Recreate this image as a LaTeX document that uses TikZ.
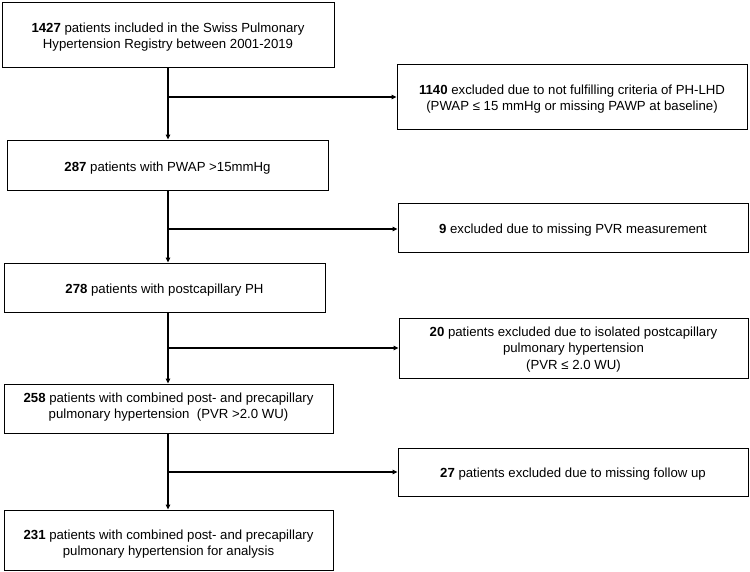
\documentclass[tikz,border=0pt]{standalone}
\usepackage{fontspec}
\setmainfont{Liberation Sans}
\usetikzlibrary{arrows.meta}
\newcommand\bxt[2]{\raisebox{#1}[\height][\depth]{\begin{tabular}{@{}c@{}}#2\end{tabular}}}
\begin{document}
\begin{tikzpicture}[x=1pt,y=-1pt,
  box/.style={draw=black,line width=0.9pt,fill=white,inner sep=0pt,font=\fontsize{13.2}{16.3}\selectfont},
  conn/.style={line width=1.3pt,draw=black},
  arr/.style={conn,-{Triangle[length=5pt,width=4.5pt]}}]
\useasboundingbox (0,0) rectangle (750,571);
\node[box,minimum width=332pt,minimum height=65pt] (b1) at (168,34.5)
  {\bxt{-3pt}{\textbf{1427} patients included in the Swiss Pulmonary\\Hypertension Registry between 2001-2019}};
\node[box,minimum width=321pt,minimum height=50pt] (b2) at (167.5,165)
  {\bxt{-3pt}{\textbf{287} patients with PWAP >15mmHg}};
\node[box,minimum width=321pt,minimum height=49pt] (b3) at (164.5,287.5)
  {\bxt{-3pt}{\textbf{278} patients with postcapillary PH}};
\node[box,minimum width=329pt,minimum height=49pt] (b4) at (168.5,408.5)
  {\bxt{1.5pt}{\textbf{258} patients with combined post- and precapillary\\pulmonary hypertension\ \ (PVR >2.0 WU)}};
\node[box,minimum width=329pt,minimum height=60pt] (b5) at (168.5,540)
  {\bxt{-4.5pt}{\textbf{231} patients with combined post- and precapillary\\pulmonary hypertension for analysis}};
\node[box,minimum width=350pt,minimum height=65pt] (r1) at (572,96.5)
  {\bxt{-2.5pt}{\textbf{1140} excluded due to not fulfilling criteria of PH-LHD\\(PWAP ≤ 15 mmHg or missing PAWP at baseline)}};
\node[box,minimum width=350pt,minimum height=49pt] (r2) at (573,227.5)
  {\bxt{-3pt}{\textbf{9} excluded due to missing PVR measurement}};
\node[box,minimum width=349pt,minimum height=60pt] (r3) at (573.5,348)
  {\bxt{-1.5pt}{\textbf{20} patients excluded due to isolated postcapillary\\pulmonary hypertension\\(PVR ≤ 2.0 WU)}};
\node[box,minimum width=350pt,minimum height=48pt] (r4) at (573,472)
  {\bxt{-2.5pt}{\textbf{27} patients excluded due to missing follow up}};
\coordinate (v) at (168,0);
\coordinate (j1) at (168,97);
\coordinate (j2) at (168,229);
\coordinate (j3) at (168,348);
\coordinate (j4) at (168,472);
\draw[arr] (v |- b1.south) -- (v |- b2.north);
\draw[arr] (v |- b2.south) -- (v |- b3.north);
\draw[arr] (v |- b3.south) -- (v |- b4.north);
\draw[arr] (v |- b4.south) -- (v |- b5.north);
\draw[arr] (j1) -- (j1 -| r1.west);
\draw[arr] (j2) -- (j2 -| r2.west);
\draw[arr] (j3) -- (j3 -| r3.west);
\draw[arr] (j4) -- (j4 -| r4.west);
\end{tikzpicture}
\end{document}
